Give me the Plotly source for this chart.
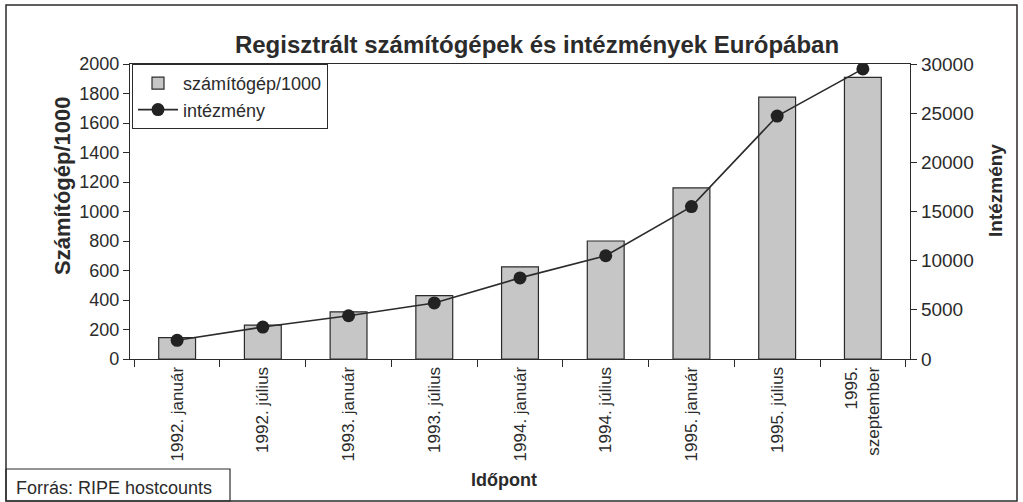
import plotly.graph_objects as go

categories = ["1992. január", "1992. július", "1993. január", "1993. július",
              "1994. január", "1994. július", "1995. január", "1995. július",
              "1995.<br>szeptember"]
computers_per_1000 = [145, 230, 320, 430, 625, 800, 1160, 1775, 1910]
institutions = [1900, 3250, 4400, 5700, 8250, 10500, 15500, 24700, 29500]

FONT = "Liberation Sans, Arial, Helvetica, sans-serif"
INK = "#2b2b2b"

# plot area in pixels (for placing frame / text in paper coords)
L, T, W, H = 130, 64, 780, 295
def px(x):
    return (x - L) / W
def py(y):
    return (T + H - y) / H

fig = go.Figure()
fig.add_trace(go.Bar(
    x=categories, y=computers_per_1000, name="számítógép/1000",
    marker=dict(color="#c6c6c6", line=dict(color=INK, width=1.2)),
    yaxis="y",
))
fig.add_trace(go.Scatter(
    x=categories, y=institutions, name="intézmény", mode="lines+markers",
    line=dict(color=INK, width=1.6),
    marker=dict(color="#222222", size=13),
    yaxis="y2",
))

fig.update_layout(
    width=1023, height=502,
    margin=dict(l=L, r=1023 - L - W, t=T, b=502 - T - H),
    paper_bgcolor="white", plot_bgcolor="white",
    font=dict(family=FONT, color=INK),
    bargap=0.57,
    showlegend=True,
    title=dict(text="<b>Regisztrált számítógépek és intézmények Európában</b>",
               x=px(537), xanchor="center", xref="paper",
               y=1 - 45 / 502, yanchor="middle",
               font=dict(size=24, color=INK)),
    legend=dict(x=px(132), y=1.0, xanchor="left", yanchor="top",
                bgcolor="white", bordercolor=INK, borderwidth=1,
                font=dict(size=18, color=INK), tracegroupgap=0,
                itemwidth=40),
    xaxis=dict(type="category", showline=True, linecolor=INK, linewidth=1.2,
               mirror=True, ticks="outside", tickson="boundaries", ticklen=7,
               tickcolor=INK, tickangle=-90, tickfont=dict(size=17, color=INK),
               showgrid=False, zeroline=False),
    yaxis=dict(range=[0, 2000], dtick=200, showline=True, linecolor=INK, linewidth=1.2,
               ticks="outside", ticklen=6, tickcolor=INK, showgrid=False, zeroline=False,
               tickfont=dict(size=18, color=INK)),
    yaxis2=dict(range=[0, 30000], dtick=5000, tickformat="d", overlaying="y", side="right",
                showline=True, linecolor=INK, linewidth=1.2,
                ticks="outside", ticklen=6, tickcolor=INK, showgrid=False, zeroline=False,
                tickfont=dict(size=19, color=INK)),
)

# axis titles
fig.add_annotation(text="<b>Időpont</b>", xref="paper", yref="paper",
                   x=px(504), y=py(480), xanchor="center", yanchor="middle",
                   showarrow=False, font=dict(size=18, color=INK))
fig.add_annotation(text="<b>Számítógép/1000</b>", xref="paper", yref="paper",
                   x=px(62), y=py(186), xanchor="center", yanchor="middle", textangle=-90,
                   showarrow=False, font=dict(size=22, color=INK))
fig.add_annotation(text="<b>Intézmény</b>", xref="paper", yref="paper",
                   x=px(995), y=py(191), xanchor="center", yanchor="middle", textangle=-90,
                   showarrow=False, font=dict(size=19, color=INK))

# outer frame and source box
fig.add_shape(type="rect", xref="paper", yref="paper",
              x0=px(6), x1=px(1017), y0=py(501), y1=py(5),
              line=dict(color=INK, width=1.5))
fig.add_shape(type="rect", xref="paper", yref="paper",
              x0=px(6), x1=px(230), y0=py(501), y1=py(469),
              line=dict(color=INK, width=1.2))
fig.add_annotation(text="Forrás: RIPE hostcounts", xref="paper", yref="paper",
                   x=px(14), y=py(488), xanchor="left", yanchor="middle",
                   showarrow=False, font=dict(size=18, color=INK))

fig.write_html("out.html", config={"displayModeBar": False},
               post_script="document.body.style.margin='0';")
